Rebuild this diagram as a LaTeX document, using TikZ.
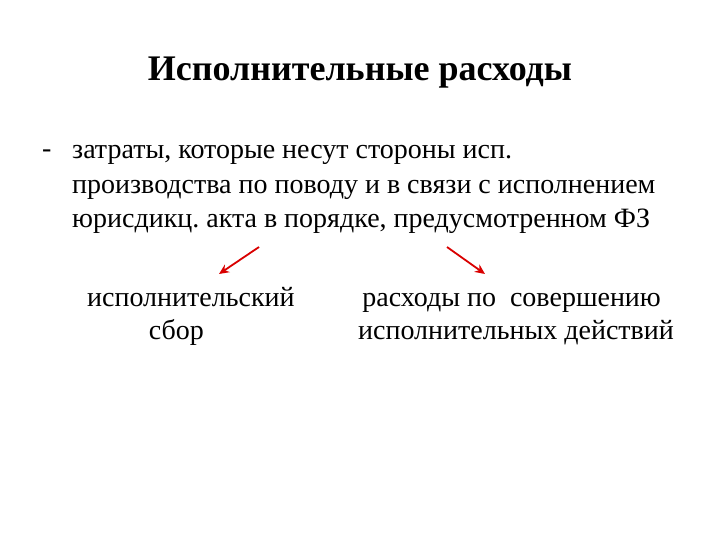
\documentclass[tikz,border=0pt]{standalone}
\usepackage{fontspec}
\setmainfont{Liberation Serif}
\frenchspacing
\usetikzlibrary{arrows.meta}
\tikzset{
	body/.style={font=\fontsize{28}{35}\selectfont, inner sep=0pt},
	arr/.style={draw=red!85!black, line width=1.8pt, -{Stealth[length=10pt,width=9pt]}}
}

\begin{document}
\begin{tikzpicture}[x=1pt, y=-1pt]
	\useasboundingbox (0,0) rectangle (720,540);
	\node[font=\fontsize{36}{40}\selectfont\bfseries, inner sep=0pt, anchor=base] (title) at (360,81) {Исполнительные расходы};
	\node[body, anchor=base west] (dash) at (42,158) {-};
	\node[body, anchor=base west, align=left] (def) at (72,228) {затраты, которые несут стороны исп.\\производства по поводу и в связи с исполнением\\юрисдикц. акта в порядке, предусмотренном ФЗ};
	\node[body, anchor=base west, align=left, font=\fontsize{28}{33}\selectfont] (sbor) at (87,339) {исполнительский\\\hspace*{2.2em}сбор};
	\node[body, anchor=base west, align=left, font=\fontsize{28}{33}\selectfont] (rash) at (358,339) {\hspace*{0.15em}расходы по\ \ совершению\\исполнительных действий};
	\coordinate (s1) at (259,247);
	\coordinate (e1) at (219,274);
	\coordinate (s2) at (447,247);
	\coordinate (e2) at (485,274);
	\draw[arr] (s1) -- (e1);
	\draw[arr] (s2) -- (e2);
\end{tikzpicture}
\end{document}
